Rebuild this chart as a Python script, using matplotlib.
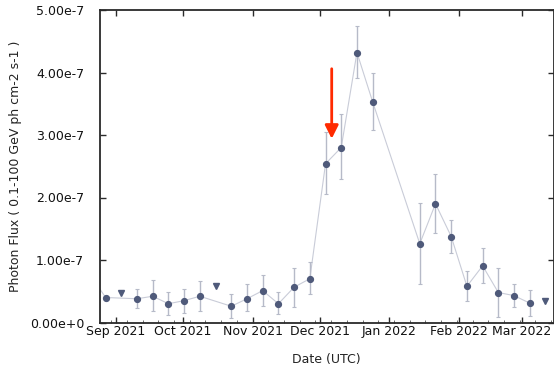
import matplotlib
matplotlib.use("Agg")
import matplotlib.pyplot as plt
import matplotlib.dates as mdates
import numpy as np
import pandas as pd

# ---- data (flux in units of 1e-7 ph cm-2 s-1) ----
det_dates = ["2021-08-20 12:00", "2021-08-27 12:00", "2021-09-10 12:00", "2021-09-17 12:00",
             "2021-09-24 12:00", "2021-10-01 12:00", "2021-10-08 12:00", "2021-10-22 12:00",
             "2021-10-29 12:00", "2021-11-05 12:00", "2021-11-12 12:00", "2021-11-19 12:00",
             "2021-11-26 12:00", "2021-12-03 12:00", "2021-12-10 12:00", "2021-12-17 12:00",
             "2021-12-24 12:00", "2022-01-14 12:00", "2022-01-21 12:00", "2022-01-28 12:00",
             "2022-02-04 12:00", "2022-02-11 12:00", "2022-02-18 12:00", "2022-02-25 12:00",
             "2022-03-04 12:00"]
det_flux = [0.77, 0.40, 0.38, 0.42, 0.30, 0.35, 0.42, 0.26, 0.38, 0.51, 0.30, 0.565, 0.70,
            2.54, 2.80, 4.32, 3.53, 1.26, 1.90, 1.376, 0.58, 0.907, 0.48, 0.43, 0.31]
det_upper = [0.95, 0.42, 0.54, 0.68, 0.49, 0.53, 0.66, 0.46, 0.61, 0.76, 0.485, 0.87, 0.965,
             3.045, 3.34, 4.75, 4.00, 1.91, 2.37, 1.64, 0.83, 1.19, 0.87, 0.62, 0.52]
det_lower = [0.59, 0.38, 0.23, 0.19, 0.12, 0.155, 0.19, 0.075, 0.18, 0.26, 0.13, 0.245, 0.45,
             2.05, 2.29, 3.915, 3.08, 0.61, 1.435, 1.115, 0.34, 0.63, 0.096, 0.25, 0.11]

ul_dates = ["2021-09-03 12:00", "2021-10-15 12:00", "2022-03-11 12:00"]
ul_flux = [0.48, 0.58, 0.35]

arrow_date = "2021-12-06 06:00"
arrow_from = 4.06
arrow_to = 2.94

ytick_values = [0, 1, 2, 3, 4, 5]
ytick_labels = ["0.00e+0", "1.00e-7", "2.00e-7", "3.00e-7", "4.00e-7", "5.00e-7"]
xlim_dates = ["2021-08-25 00:00", "2022-03-15 02:00"]

# ---- style ----
marker_c = "#4f5a7a"
err_c = "#b6bac8"
line_c = "#c9ccd8"
spine_c = "#2a2a2a"

plt.rcParams['font.family'] = ['DejaVu Sans']

fig = plt.figure(figsize=(5.54, 3.65), dpi=100)
ax = fig.add_axes([100/554, (365-322.5)/365, 453.5/554, 312.5/365])

x = pd.to_datetime(det_dates)
f = np.array(det_flux)
yerr = np.vstack([f - np.array(det_lower), np.array(det_upper) - f])

ax.plot(x, f, color=line_c, lw=0.8, zorder=1)
ax.errorbar(x, f, yerr=yerr, fmt='none', ecolor=err_c, elinewidth=1.0,
            capsize=1.6, capthick=0.8, zorder=2)
ax.plot(x, f, 'o', color=marker_c, ms=4.2, mec=marker_c, zorder=3)
ax.plot(pd.to_datetime(ul_dates), ul_flux, 'v', color=marker_c, ms=4.2, zorder=3)

ad = mdates.date2num(pd.Timestamp(arrow_date))
ax.annotate('', xy=(ad, arrow_to), xytext=(ad, arrow_from),
            arrowprops=dict(arrowstyle='-|>,head_length=0.8,head_width=0.4',
                            color='#ff2a00', lw=2.0, shrinkA=0, shrinkB=0,
                            mutation_scale=10), zorder=4)

ax.set_xlim(pd.to_datetime(xlim_dates[0]), pd.to_datetime(xlim_dates[1]))
ax.set_ylim(0, 5)
ax.set_yticks(ytick_values)
ax.set_yticklabels(ytick_labels)

ax.xaxis.set_major_locator(mdates.MonthLocator())
ax.xaxis.set_major_formatter(mdates.DateFormatter('%b %Y'))
ax.xaxis.set_minor_locator(mdates.WeekdayLocator(byweekday=mdates.MO))

ax.tick_params(which='major', direction='in', length=4, width=1.0, color=spine_c,
               top=True, right=True, labelsize=9, labelcolor='#111111')
ax.tick_params(which='minor', direction='in', length=2, width=0.6, color='#555555',
               top=False, bottom=True)
ax.tick_params(axis='y', pad=11.5)
ax.tick_params(axis='x', pad=2)

for s in ax.spines.values():
    s.set_color(spine_c)
    s.set_linewidth(1.3)

ax.set_xlabel("Date (UTC)", fontsize=9, color='#222222')
ax.xaxis.set_label_coords(0.5, -0.098)
ax.set_ylabel("Photon Flux ( 0.1-100 GeV ph cm-2 s-1 )", fontsize=9, color='#222222', va='center')
ax.yaxis.set_label_coords((16-100)/453.5, 0.5)

fig.savefig("out.png", dpi=100)
